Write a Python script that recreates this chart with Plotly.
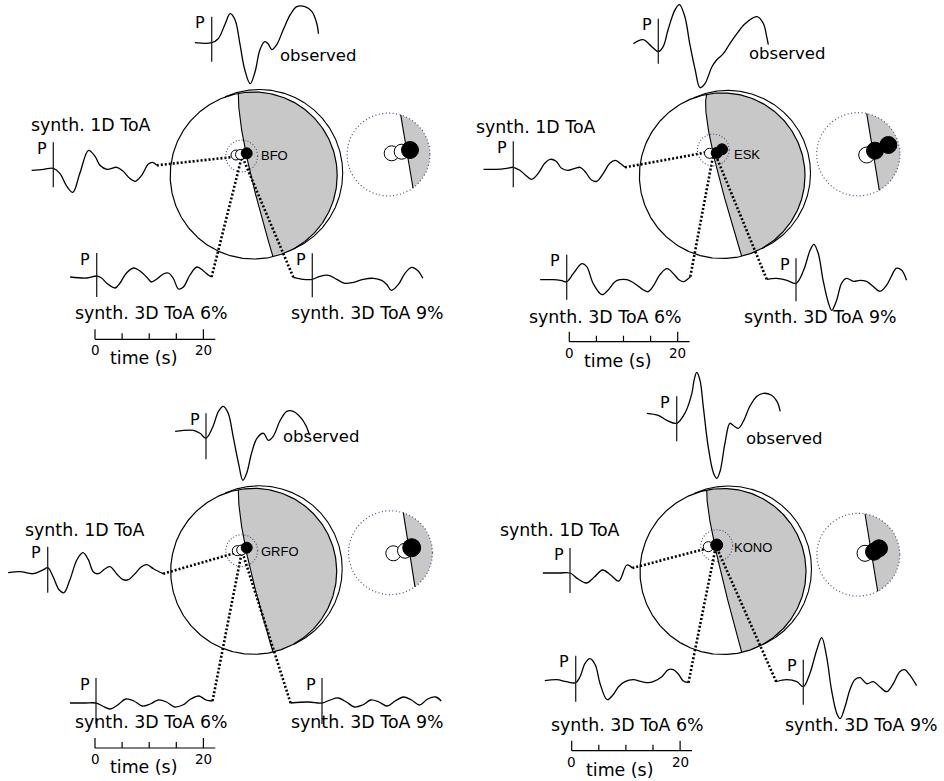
import math
import numpy as np
import plotly.graph_objects as go

W, H = 944, 781
PX_PER_S = 5.42      # horizontal scale of every seismogram (px per second)
PX_PER_AMP = 1.0     # vertical scale (px per amplitude unit)

# ---------------------------------------------------------------------------
# Seismograms: time after the P arrival (s) and amplitude (arbitrary units)
# ---------------------------------------------------------------------------
BFO_OBS_T = [-3.1, 0, 1.2, 2.5, 3.4, 4.3, 5.2, 6.1, 7.1, 8.0, 8.9, 9.8, 10.4, 11.1, 12.0, 13.2, 14.5, 15.7, 17.2, 18.5, 19.4, 19.7]
BFO_OBS_A = [0, 0, 4, 19, 29, 23, -1, -27, -41, -29, -7, 1, -1, -7, -2, 13, 28, 36, 36, 31, 19, 9]
BFO_1D_T = [-4.0, -1.8, 0, 1.2, 2.5, 3.6, 4.9, 6.5, 7.7, 8.6, 9.9, 11.7, 12.9, 14.1, 15.1, 16.3, 17.5, 18.3, 19.1]
BFO_1D_A = [-2, -1, 0, -5, -18, -24, -5, 18, 12, 3, -1, 1, -3, -10, -13, -7, 4, 6, 3]
BFO_6_T = [-4.9, -1.8, 0, 0.9, 1.8, 3.4, 4.3, 5.5, 6.8, 8.0, 9.2, 10.1, 11.1, 12.3, 13.2, 14.1, 15.1, 16.0, 17.2, 18.5, 19.7, 20.6, 21.2]
BFO_6_A = [-1, -2, 0, -2, -7, -12, -7, 3, 8, 5, -1, -6, -3, 2, 3, -2, -13, -11, 1, 9, 5, 1, -1]
BFO_9_T = [-3.5, -1.7, 0, 1.4, 3.0, 4.5, 6.0, 7.6, 9.4, 11.3, 12.8, 13.7, 14.6, 15.9, 17.1, 18.3, 19.4, 20.4]
BFO_9_A = [2, 0, 0, 3, 4, 0, -4, -3, 0, 1, -1, -5, -11, -5, 6, 12, 9, 1]

ESK_OBS_T = [-4.6, -2.8, -1.2, 0, 0.9, 1.8, 3.1, 3.9, 4.9, 5.8, 6.8, 7.7, 8.6, 9.9, 10.8, 12.0, 13.2, 14.5, 16.0, 18.2, 19.4, 20.0, 20.3]
ESK_OBS_A = [8, 12, 5, 0, 5, 22, 42, 47, 35, 8, -18, -36, -32, -15, -8, -2, 8, 18, 28, 35, 28, 15, 7]
ESK_1D_T = [-5.5, -3.1, -1.2, 0, 1.2, 2.5, 3.4, 4.6, 5.8, 6.8, 7.9, 8.9, 10.1, 11.4, 12.3, 13.2, 14.5, 15.4, 16.6, 17.8, 18.8, 19.7, 20.6]
ESK_1D_A = [-2, -2, -1, 0, -3, -9, -12, -6, 4, 8, 6, -1, -3, -1, 0, -4, -13, -14, -6, 4, 7, 4, 0]
ESK_6_T = [-4.9, -2.5, -0.9, 0, 1.2, 2.8, 3.7, 4.9, 6.5, 7.7, 8.9, 9.8, 11.1, 12.6, 14.1, 15.0, 15.9, 17.2, 18.5, 19.7, 20.7, 21.6, 22.4, 22.8]
ESK_6_A = [2, 2, 1, 0, 8, 18, 15, -2, -13, -8, 0, 2, 2, -2, -8, -10, -5, 7, 13, 8, 2, 0, 3, 5]
ESK_9_T = [-5.4, -3.6, -1.7, 0, 1.4, 2.6, 3.3, 4.1, 5.0, 6.0, 6.6, 7.5, 8.4, 9.3, 10.6, 11.8, 13.0, 14.2, 15.5, 16.7, 17.6, 18.5, 19.5, 20.4]
ESK_9_A = [4, 5, 3, 0, 13, 33, 39, 30, 3, -20, -27, -17, 0, 5, 2, 3, 2, -3, -8, -2, 7, 15, 13, 3]

GRFO_OBS_T = [-5.7, -2.3, -1.1, 0, 1.3, 2.3, 3.2, 4.1, 5.0, 6.0, 6.8, 7.5, 8.4, 9.4, 10.6, 11.5, 12.4, 13.7, 14.9, 16.1, 17.6, 18.5, 19.1]
GRFO_OBS_A = [7, 8, 5, 0, 12, 27, 32, 25, 2, -25, -42, -35, -15, 0, 5, -2, 2, 18, 27, 27, 20, 12, 3]
GRFO_1D_T = [-7.3, -5.1, -2.7, -0.8, 0, 1.0, 2.1, 3.0, 4.1, 5.4, 6.5, 7.5, 8.4, 9.3, 10.6, 11.5, 12.7, 13.9, 14.9, 16.1, 17.3, 18.3, 19.5, 21.3]
GRFO_1D_A = [-5, -4, -6, -2, 0, -9, -22, -25, -12, 8, 15, 8, -4, -6, -1, 1, -6, -12, -12, -6, 1, 3, -1, -6]
GRFO_6_T = [-4.8, -2.0, 0, 1.2, 2.6, 4.0, 5.5, 7.0, 8.5, 10.0, 11.5, 13.0, 14.5, 16.0, 17.5, 19.0, 20.3, 21.5]
GRFO_6_A = [0, 0, 0, -3, -6, -2, 4, 2, -3, -1, 3, 1, -4, -2, 4, 7, 3, 2]
GRFO_9_T = [-5.8, -2.5, 0, 1.5, 3.0, 4.5, 6.0, 7.5, 9.0, 10.5, 12.0, 13.5, 15.0, 16.5, 18.0, 19.5, 21.0, 22.0]
GRFO_9_A = [0, 1, 0, 3, 5, 1, -4, -2, 3, 1, -3, 2, 6, 3, -2, 4, 6, 2]

KONO_OBS_T = [-5.5, -3.4, -1.8, 0, 1.5, 2.8, 3.2, 3.7, 4.3, 4.9, 5.8, 6.8, 7.4, 8.0, 8.9, 9.8, 10.4, 11.4, 12.3, 13.5, 14.8, 16.0, 17.5, 18.5, 19.1]
KONO_OBS_A = [10, 8, 3, 0, 10, 30, 43, 51, 43, 17, -23, -50, -55, -48, -20, 0, -2, -5, 2, 17, 27, 30, 28, 22, 12]
KONO_1D_T = [-5.0, -2.0, 0, 1.5, 3.0, 4.5, 6.0, 7.5, 9.0, 10.5, 11.5]
KONO_1D_A = [0, 0, 0, -6, -10, -4, 3, -2, -8, 8, 5]
KONO_6_T = [-5.7, -3.5, -1.7, 0, 0.8, 1.7, 2.6, 3.6, 4.5, 5.8, 6.9, 7.9, 9.1, 10.6, 12.2, 13.4, 14.3, 15.9, 17.1, 18.0, 18.9, 19.8, 20.8]
KONO_6_A = [2, 3, 1, 0, 6, 19, 24, 18, -1, -17, -12, -4, 1, 3, 1, 0, 1, 6, 13, 13, 9, 2, 0]
KONO_9_T = [-5.0, -3.1, -1.2, 0, 1.2, 2.5, 3.4, 4.3, 5.2, 6.2, 6.8, 7.7, 8.6, 9.5, 10.5, 11.7, 12.9, 14.1, 15.4, 16.6, 17.8, 18.7, 19.6, 20.9]
KONO_9_A = [5, 7, 5, 0, 13, 37, 49, 30, -3, -27, -32, -20, -3, 7, 9, 3, 5, 0, -5, 3, 15, 17, 12, 1]

STATIONS = ["BFO", "ESK", "GRFO", "KONO"]
TRACE_NAMES = ["observed", "synth. 1D ToA", "synth. 3D ToA 6%", "synth. 3D ToA 9%"]
SCALE_TICKS_S = [0, 5, 10, 15, 20]
SCALE_TICK_LABELS = ["0", "20"]

WAVES = {
    "BFO": [(BFO_OBS_T, BFO_OBS_A), (BFO_1D_T, BFO_1D_A), (BFO_6_T, BFO_6_A), (BFO_9_T, BFO_9_A)],
    "ESK": [(ESK_OBS_T, ESK_OBS_A), (ESK_1D_T, ESK_1D_A), (ESK_6_T, ESK_6_A), (ESK_9_T, ESK_9_A)],
    "GRFO": [(GRFO_OBS_T, GRFO_OBS_A), (GRFO_1D_T, GRFO_1D_A), (GRFO_6_T, GRFO_6_A), (GRFO_9_T, GRFO_9_A)],
    "KONO": [(KONO_OBS_T, KONO_OBS_A), (KONO_1D_T, KONO_1D_A), (KONO_6_T, KONO_6_A), (KONO_9_T, KONO_9_A)],
}

# ---------------------------------------------------------------------------
# Panel layout (page pixels)
# ---------------------------------------------------------------------------
PANELS = {
    "BFO": dict(
        ball=(253.7, 175.5, 83.5), nodal=(-15.4, (246.7, 156.7), 19.3),
        anchor=(242.0, 156.0), ring=(241.7, 156.0, 16), label=(259, 155),
        marks=[("w", 236.0, 155.0, 10), ("w", 240.5, 154.5, 10), ("k", 246.7, 153.3, 11)],
        inset=(388.5, 154.5, 41.5), cut=(12.2, 24.5),
        imarks=[("w", 391.7, 153.3, 15), ("w", 401.7, 151.7, 15), ("k", 410.0, 150.0, 17)],
        origins=[(211.7, 42.7), (53.3, 168.3), (96.7, 276.0), (312.3, 279.3)],
        marker_ext=[(-26, 19), (-26, 19), (-23, 21), (-26, 18)],
        texts=[(278, 55, "left"), (91, 125, "center"), (151.5, 313.3, "center"), (367, 313.3, "center")],
        scale=(95.0, 339.3),
    ),
    "ESK": dict(
        ball=(722.2, 175.7, 82.8), nodal=(-15.5, (711.7, 146.7), 19.5),
        anchor=(714.0, 151.0), ring=(713.3, 150.0, 16), label=(732, 154),
        marks=[("w", 709.5, 153.3, 10), ("k", 716.7, 153.0, 11), ("k", 722.0, 149.3, 11)],
        inset=(858.3, 154.3, 41.7), cut=(8.4, 21.0),
        imarks=[("w", 866.7, 155.0, 16), ("k", 875.0, 150.7, 17), ("k", 888.3, 145.0, 17)],
        origins=[(658.3, 51.7), (513.3, 167.3), (566.7, 281.7), (796.0, 283.3)],
        marker_ext=[(-33, 12), (-26, 20), (-27, 18), (-25, 18)],
        texts=[(747, 53.3, "left"), (536.3, 126.7, "center"), (605, 316.7, "center"), (820, 316.7, "center")],
        scale=(569.3, 341.7),
    ),
    "GRFO": dict(
        ball=(253.7, 571.3, 83.0), nodal=(-15.4, (246.7, 553.3), 19.3),
        anchor=(242.0, 551.0), ring=(241.7, 550.7, 16), label=(259, 551.7),
        marks=[("w", 237.3, 550.7, 10), ("w", 241.7, 550.0, 10), ("k", 246.7, 547.7, 11)],
        inset=(390.5, 552.7, 42.0), cut=(12.8, 24.5),
        imarks=[("w", 393.3, 553.3, 15), ("w", 405.0, 550.7, 15), ("k", 411.7, 547.7, 18)],
        origins=[(206.0, 438.3), (47.7, 567.7), (96.0, 703.0), (322.0, 703.0)],
        marker_ext=[(-25, 21), (-21, 25), (-25, 21), (-25, 21)],
        texts=[(281, 436, "left"), (84.5, 530, "center"), (151, 722, "center"), (367, 722, "center")],
        scale=(95.0, 748.0),
    ),
    "KONO": dict(
        ball=(723.0, 571.5, 83.0), nodal=(-16.3, (715.0, 546.7), 18.7),
        anchor=(716.0, 546.0), ring=(716.7, 545.7, 16), label=(732, 547.3),
        marks=[("w", 708.3, 546.7, 10), ("k", 716.7, 545.0, 12)],
        inset=(858.3, 554.7, 41.5), cut=(6.7, 19.4),
        imarks=[("w", 865.0, 553.3, 16), ("k", 874.0, 551.7, 17), ("k", 879.0, 548.3, 17)],
        origins=[(676.7, 423.3), (570.0, 573.0), (575.7, 682.7), (803.3, 686.7)],
        marker_ext=[(-27, 18), (-25, 20), (-27, 19), (-27, 18)],
        texts=[(744, 438.3, "left"), (560, 530, "center"), (627.5, 725, "center"), (861, 725, "center")],
        scale=(571.7, 750.7),
    ),
}

GREY = "#c8c8c8"
RING = "#52457a"
OBS_FONT = dict(family="DejaVu Sans", size=16.5, color="black")
TEXT_FONT = dict(family="DejaVu Sans", size=17.4, color="black")

fig = go.Figure()
annotations = []


def line(xs, ys, color="black", width=1.2, dash=None, shape="linear", fill=None, fillcolor=None):
    fig.add_trace(go.Scatter(
        x=list(xs), y=list(ys), mode="lines", hoverinfo="skip", showlegend=False,
        line=dict(color=color, width=width, dash=dash, shape=shape,
                  smoothing=1.0 if shape == "spline" else None),
        fill=fill, fillcolor=fillcolor,
    ))


def circle_pts(cx, cy, r, n=240):
    th = np.linspace(0, 2 * np.pi, n)
    return cx + r * np.cos(th), cy + r * np.sin(th)


def bezier(p0, mid, p2, n=80):
    c = (2 * mid[0] - 0.5 * (p0[0] + p2[0]), 2 * mid[1] - 0.5 * (p0[1] + p2[1]))
    s = np.linspace(0, 1, n)
    x = (1 - s) ** 2 * p0[0] + 2 * (1 - s) * s * c[0] + s ** 2 * p2[0]
    y = (1 - s) ** 2 * p0[1] + 2 * (1 - s) * s * c[1] + s ** 2 * p2[1]
    return x, y


def text(x, y, s, xanchor="center", font=TEXT_FONT):
    annotations.append(dict(x=x, y=y, text=s, showarrow=False, xref="x", yref="y",
                            xanchor=xanchor, yanchor="middle", font=font))


for st in STATIONS:
    p = PANELS[st]
    cx, cy, R = p["ball"]

    # --- compressional quadrant of the focal sphere
    dxt, mid, dxb = p["nodal"]
    top = (cx + dxt, cy - math.sqrt(R * R - dxt * dxt))
    bot = (cx + dxb, cy + math.sqrt(R * R - dxb * dxb))
    nx, ny = bezier(top, mid, bot)
    a_top = math.atan2(top[1] - cy, top[0] - cx)
    a_bot = math.atan2(bot[1] - cy, bot[0] - cx)
    th = np.linspace(a_bot, a_top, 120)
    gx = np.concatenate([nx, cx + R * np.cos(th)])
    gy = np.concatenate([ny, cy + R * np.sin(th)])
    line(gx, gy, color="rgba(0,0,0,0)", width=0, fill="toself", fillcolor=GREY)

    # --- focal sphere outline plus the slightly shifted second outline
    ox, oy = circle_pts(cx, cy, R, 360)
    line(ox, oy, width=1.2)
    sx, sy = circle_pts(cx + 5.5, cy - 2.5, R, 720)
    outside = np.hypot(sx - cx, sy - cy) > R + 0.2
    sx = np.where(outside, sx, np.nan)
    sy = np.where(outside, sy, np.nan)
    line(sx, sy, width=1.1)
    line(nx, ny, width=1.1)

    # --- seismograms
    ends = []
    for k, (t, a) in enumerate(WAVES[st]):
        x0, y0 = p["origins"][k]
        xs = [x0 + ti * PX_PER_S for ti in t]
        ys = [y0 - ai * PX_PER_AMP for ai in a]
        line(xs, ys, width=1.3, shape="spline")
        mt, mb = p["marker_ext"][k]
        line([x0, x0], [y0 + mt, y0 + mb], color="#222", width=1.3)
        text(x0 - 4.5, y0 + mt + 6, "P", xanchor="right", font=dict(family="DejaVu Sans", size=16, color="black"))
        ends.append((xs[0], ys[0]) if k == 3 else (xs[-1], ys[-1]))
        tx, ty, anc = p["texts"][k]
        text(tx, ty, TRACE_NAMES[k], xanchor=anc, font=OBS_FONT if k == 0 else TEXT_FONT)

    # --- ray paths from the station to the synthetic traces
    ax, ay = p["anchor"]
    for ex, ey in ends[1:]:
        line([ex, ax], [ey, ay], width=2.6, dash="2px,2px")

    # --- station ring and piercing points
    rx, ry, rr = p["ring"]
    cxs, cys = circle_pts(rx, ry, rr, 120)
    line(cxs, cys, color=RING, width=1.1, dash="1px,2px")
    for kind, mx, my, d in p["marks"]:
        fig.add_trace(go.Scatter(
            x=[mx], y=[my], mode="markers", hoverinfo="skip", showlegend=False,
            marker=dict(size=d, color="white" if kind == "w" else "black",
                        line=dict(color="black", width=1))))
    text(p["label"][0], p["label"][1], st, xanchor="left",
         font=dict(family="Liberation Sans", size=13, color="black"))

    # --- enlarged view around the station
    icx, icy, ir = p["inset"]
    ct, cb = p["cut"]
    itop = (icx + ct, icy - math.sqrt(ir * ir - ct * ct))
    ibot = (icx + cb, icy + math.sqrt(ir * ir - cb * cb))
    b_top = math.atan2(itop[1] - icy, itop[0] - icx)
    b_bot = math.atan2(ibot[1] - icy, ibot[0] - icx)
    th = np.linspace(b_bot, b_top, 80)
    line(np.concatenate([[itop[0]], icx + ir * np.cos(th)]),
         np.concatenate([[itop[1]], icy + ir * np.sin(th)]),
         color="rgba(0,0,0,0)", width=0, fill="toself", fillcolor=GREY)
    ix, iy = circle_pts(icx, icy, ir, 240)
    line(ix, iy, color=RING, width=1.2, dash="1px,2.5px")
    line([itop[0], ibot[0]], [itop[1], ibot[1]], width=1.1)
    for kind, mx, my, d in p["imarks"]:
        fig.add_trace(go.Scatter(
            x=[mx], y=[my], mode="markers", hoverinfo="skip", showlegend=False,
            marker=dict(size=d, color="white" if kind == "w" else "black",
                        line=dict(color="black", width=1))))

    # --- time scale bar
    bx, by = p["scale"]
    line([bx, bx + 22.2 * PX_PER_S], [by, by], width=1.2)
    for tk in SCALE_TICKS_S:
        h = 10 if tk in (0, 20) else 6
        line([bx + tk * PX_PER_S] * 2, [by - h, by], width=1.2)
    tick_font = dict(family="DejaVu Sans", size=13.5, color="black")
    text(bx, by + 11, SCALE_TICK_LABELS[0], font=tick_font)
    text(bx + 20 * PX_PER_S, by + 11, SCALE_TICK_LABELS[1], font=tick_font)
    text(bx + 48, by + 19, "time (s)")

fig.update_layout(
    width=W, height=H, margin=dict(l=0, r=0, t=0, b=0),
    paper_bgcolor="white", plot_bgcolor="white",
    xaxis=dict(range=[0, W], visible=False, fixedrange=True),
    yaxis=dict(range=[H, 0], visible=False, fixedrange=True),
    annotations=annotations, showlegend=False,
)
fig.write_html("out.html")
